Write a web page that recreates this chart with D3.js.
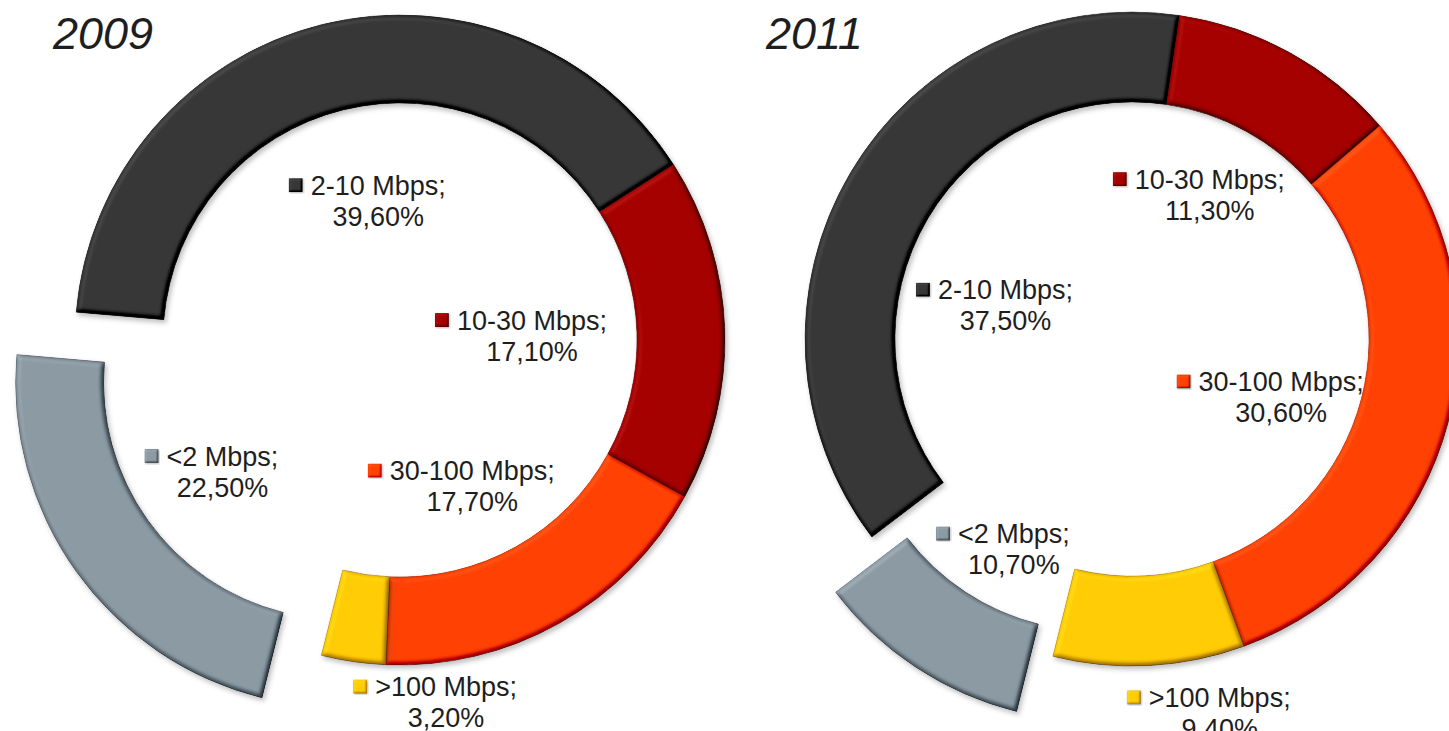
<!DOCTYPE html>
<html>
<head>
<meta charset="utf-8" />
<style>
	body {
		margin: 0;
		background: #fff;
		overflow: hidden;
	}
	svg text {
		font-family: 'Liberation Sans', Arial, sans-serif;
		fill: #1e1e1e;
	}
</style>
</head>
<body>
<svg id="chart" width="1449" height="731"></svg>

<script src="https://cdnjs.cloudflare.com/ajax/libs/d3/7.8.5/d3.min.js"></script>
<script>
	// data
	var categories = ['<2 Mbps', '2-10 Mbps', '10-30 Mbps', '30-100 Mbps', '>100 Mbps'];
	var years = ['2009', '2011'];
	var values2009 = [22.5, 39.6, 17.1, 17.7, 3.2];
	var values2011 = [10.7, 37.5, 11.3, 30.6, 9.4];
	var colors = ['#8b99a3', '#363636', '#a40000', '#ff4103', '#ffcb05'];

	// layout (not data): where each donut sits and how labels are pushed around
	var layout = [
		{ cx: 400, cy: 340, outer: 325, inner: 237, explode: 73,
		  labelR: [221, 141, 132, 163, 365], labelNudge: [-1, 5, 0, 3, -15.5] },
		{ cx: 1132, cy: 339, outer: 327, inner: 237, explode: 66,
		  labelR: [241, 131, 164, 160, 384], labelNudge: [-4, -15.6, -0.5, 6.6, -10.2] }
	];
	var startDeg = 194;
	var explodeIndex = 0; // the <2 Mbps slice is pulled out

	var fmt = d3.formatLocale({ decimal: ',', thousands: '.', grouping: [3], currency: ['', ''] }).format('.2f');
	var rad = d => d * Math.PI / 180;

	var svg = d3.select('#chart');
	var defs = svg.append('defs');

	function bevel(id, blur, scale, shadow) {
		var f = defs.append('filter').attr('id', id)
			.attr('x', '-10%').attr('y', '-10%').attr('width', '120%').attr('height', '120%')
			.attr('color-interpolation-filters', 'sRGB');
		f.append('feGaussianBlur').attr('in', 'SourceAlpha').attr('stdDeviation', blur).attr('result', 'blur');
		f.append('feDiffuseLighting').attr('in', 'blur').attr('surfaceScale', scale)
			.attr('diffuseConstant', 1).attr('lighting-color', '#fff').attr('result', 'light')
			.append('feDistantLight').attr('azimuth', 225).attr('elevation', 60);
		f.append('feComposite').attr('in', 'SourceGraphic').attr('in2', 'light')
			.attr('operator', 'arithmetic').attr('k1', 0).attr('k2', 1).attr('k3', 0.5).attr('k4', -0.43)
			.attr('result', 'lit');
		f.append('feComposite').attr('in', 'lit').attr('in2', 'SourceAlpha').attr('operator', 'in').attr('result', 'litIn');
		f.append('feGaussianBlur').attr('in', 'SourceAlpha').attr('stdDeviation', shadow).attr('result', 'sb');
		f.append('feOffset').attr('in', 'sb').attr('dx', shadow * 0.8).attr('dy', shadow).attr('result', 'so');
		f.append('feFlood').attr('flood-color', '#000').attr('flood-opacity', 0.25);
		f.append('feComposite').attr('in2', 'so').attr('operator', 'in').attr('result', 'shadow');
		var m = f.append('feMerge');
		m.append('feMergeNode').attr('in', 'shadow');
		m.append('feMergeNode').attr('in', 'litIn');
	}
	bevel('bevel', 2.5, 5, 2.5);
	bevel('bevelSmall', 1, 2, 0.8);

	var color = d3.scaleOrdinal().domain(categories).range(colors);

	[values2009, values2011].forEach((vals, ci) => {
		var L = layout[ci];
		var data = categories.map((c, i) => ({ name: c, value: vals[i], i: i }));
		var s = rad(startDeg);
		var pie = d3.pie().sort(null).value(d => d.value).startAngle(s).endAngle(s + 2 * Math.PI);
		var arc = d3.arc().innerRadius(L.inner).outerRadius(L.outer);
		var arcs = pie(data);

		var g = svg.append('g').attr('transform', `translate(${L.cx},${L.cy})`);

		g.selectAll('path')
			.data(arcs)
			.join('path')
			.attr('d', arc)
			.attr('transform', d => {
				if (d.data.i !== explodeIndex) return null;
				var m = (d.startAngle + d.endAngle) / 2;
				return `translate(${L.explode * Math.sin(m)},${-L.explode * Math.cos(m)})`;
			})
			.attr('fill', d => color(d.data.name))
			.attr('stroke', d => d3.color(color(d.data.name)).darker(0.7))
			.attr('stroke-width', 0.8)
			.attr('filter', 'url(#bevel)');

		// data labels: marker + "name;" on one line, value under it
		var lab = g.selectAll('g.label')
			.data(arcs)
			.join('g')
			.attr('class', 'label')
			.attr('transform', d => {
				var a = (d.startAngle + d.endAngle) / 2 + rad(L.labelNudge[d.data.i]);
				var r = L.labelR[d.data.i];
				return `translate(${r * Math.sin(a)},${-r * Math.cos(a)})`;
			});

		lab.append('text')
			.attr('class', 'l1')
			.attr('text-anchor', 'middle')
			.attr('y', -6)
			.style('font-size', '27px')
			.text(d => d.data.name + ';');

		lab.append('text')
			.attr('text-anchor', 'middle')
			.attr('y', 25)
			.style('font-size', '27px')
			.text(d => fmt(d.data.value) + '%');

		lab.each(function (d) {
			var w = d3.select(this).select('text.l1').node().getComputedTextLength();
			d3.select(this).insert('rect', 'text')
				.attr('x', -w / 2 - 8 - 14)
				.attr('y', -15.5 - 7)
				.attr('width', 14)
				.attr('height', 14)
				.attr('fill', color(d.data.name))
				.attr('filter', 'url(#bevelSmall)');
		});

		svg.append('text')
			.attr('x', ci === 0 ? 53 : 766)
			.attr('y', 49)
			.style('font-size', '45px')
			.style('font-style', 'italic')
			.text(years[ci]);
	});
</script>
</body>
</html>
